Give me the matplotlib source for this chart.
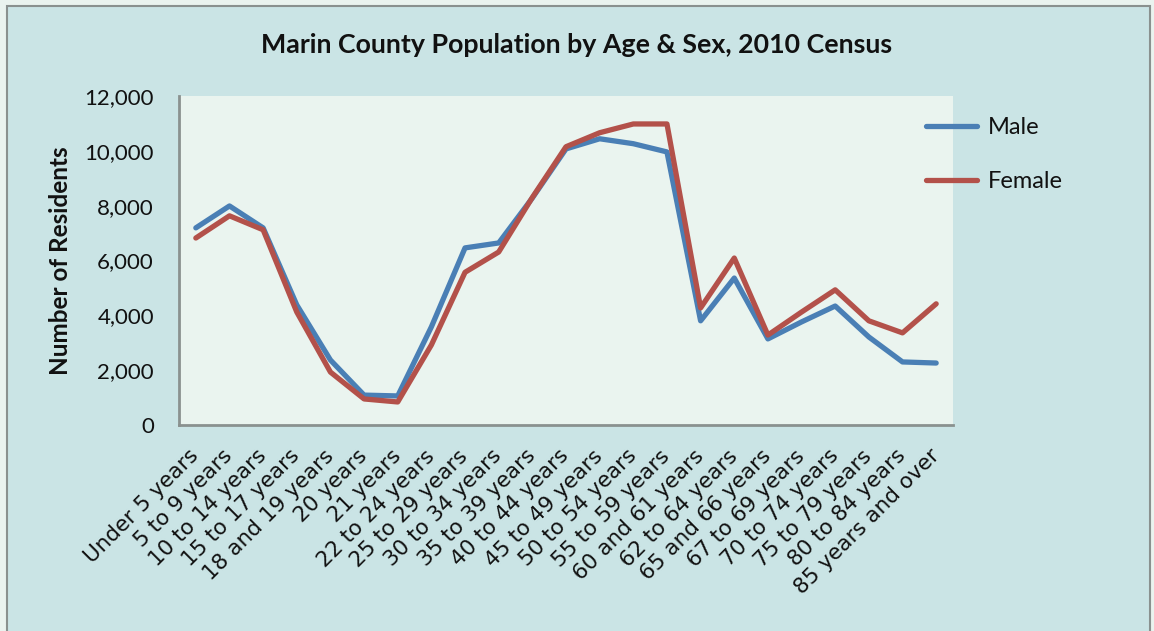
import matplotlib
matplotlib.use("Agg")
import matplotlib.pyplot as plt
from matplotlib.patches import Rectangle

categories = ["Under 5 years", "5 to 9 years", "10 to 14 years", "15 to 17 years",
              "18 and 19 years", "20 years", "21 years", "22 to 24 years",
              "25 to 29 years", "30 to 34 years", "35 to 39 years", "40 to 44 years",
              "45 to 49 years", "50 to 54 years", "55 to 59 years", "60 and 61 years",
              "62 to 64 years", "65 and 66 years", "67 to 69 years", "70 to 74 years",
              "75 to 79 years", "80 to 84 years", "85 years and over"]
male = [7190, 7990, 7190, 4380, 2370, 1090, 1060, 3580, 6460, 6640, 8280, 10070,
        10440, 10260, 9960, 3800, 5360, 3140, 3760, 4340, 3210, 2300, 2260]
female = [6820, 7630, 7120, 4120, 1930, 950, 840, 2920, 5570, 6310, 8300, 10150,
          10660, 10980, 10980, 4270, 6090, 3280, 4120, 4930, 3800, 3360, 4420]
yticks = [0, 2000, 4000, 6000, 8000, 10000, 12000]

W, H = 1154, 631
fig = plt.figure(figsize=(W / 100, H / 100), dpi=100)
fig.patch.set_facecolor("#EAF3EF")
# inner panel
fig.patches.append(Rectangle((7 / W, -0.01), (1150 - 7) / W, (H - 6) / H + 0.01,
                             transform=fig.transFigure, facecolor="#CAE4E5",
                             edgecolor="#8A918F", linewidth=1.5, zorder=-10))

ax = fig.add_axes([179 / W, 1 - 425 / H, (953 - 179) / W, (425 - 96) / H])
ax.set_zorder(1)
ax.set_facecolor("#EAF4EF")
x = list(range(len(categories)))
ax.plot(x, male, color="#4A7FB5", lw=3.8, label="Male", solid_capstyle="round", zorder=3)
ax.plot(x, female, color="#B3514A", lw=3.8, label="Female", solid_capstyle="round", zorder=3)
ax.set_xlim(-0.5, len(categories) - 0.5)
ax.set_ylim(0, 12000)
ax.set_yticks(yticks)
ax.set_yticklabels([f"{v:,}" for v in yticks], fontsize=16, family="Lato", color="#111111")
ax.set_xticks(x)
ax.set_xticklabels(categories, rotation=45, ha="right", va="center", rotation_mode="anchor",
                   fontsize=15.5, family="DejaVu Sans", color="#111111")
ax.tick_params(axis="both", length=0)
ax.tick_params(axis="y", pad=18)
ax.tick_params(axis="x", pad=20)
for s in ["top", "right"]:
    ax.spines[s].set_visible(False)
for s in ["left", "bottom"]:
    ax.spines[s].set_color("#8A918F")
    ax.spines[s].set_linewidth(2)

ax.set_ylabel("Number of Residents", fontsize=17.5, fontweight="bold", family="Lato",
              color="#111111")
ax.yaxis.set_label_coords((72 - 179) / (953 - 179), 0.5)

fig.text(577 / W, 1 - 45 / H, "Marin County Population by Age & Sex, 2010 Census",
         ha="center", va="center", fontsize=19.3, fontweight="bold", family="Lato",
         color="#111111")

leg = ax.legend(loc="upper left", bbox_to_anchor=(905 / W, 1 - 96 / H),
                bbox_transform=fig.transFigure, frameon=False,
                prop={"family": "Lato", "size": 17}, handlelength=2.15,
                labelspacing=1.4, handletextpad=0.45)
for t in leg.get_texts():
    t.set_color("#111111")

fig.savefig("out.png", dpi=100, facecolor=fig.get_facecolor())
